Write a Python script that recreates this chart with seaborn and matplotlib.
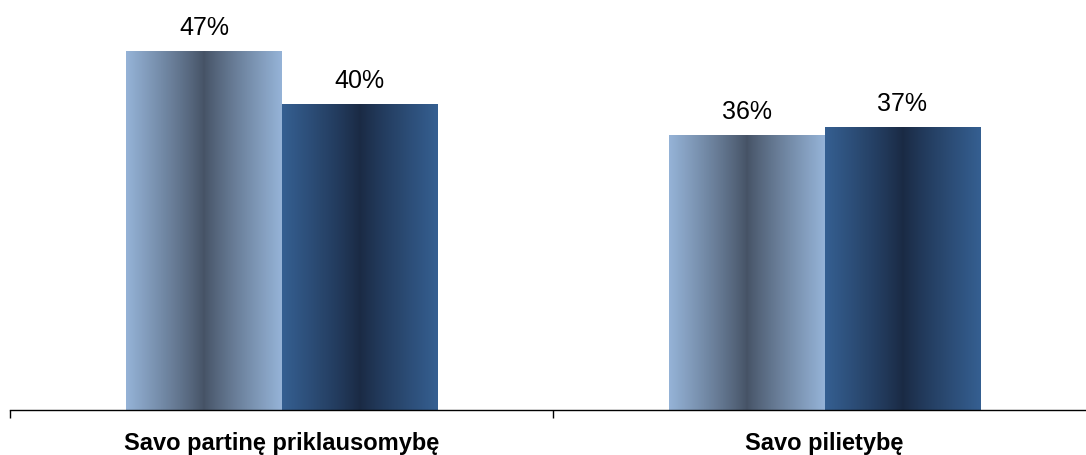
import numpy as np
import pandas as pd
import matplotlib
matplotlib.use('Agg')
import matplotlib.pyplot as plt
import seaborn as sns
from matplotlib.colors import LinearSegmentedColormap

categories = ['Savo partinę priklausomybę', 'Savo pilietybę']
series_names = ['Serija 1', 'Serija 2']
values_1 = [47, 36]
values_2 = [40, 37]

df = pd.DataFrame({
    'category': categories * 2,
    'series': [series_names[0]] * 2 + [series_names[1]] * 2,
    'value': values_1 + values_2,
})

edge_colors = ['#95b3d7', '#355f91']
mid_colors = ['#465366', '#1a2a44']

sns.set_style('white')
plt.rcParams['font.family'] = ['Liberation Sans', 'DejaVu Sans']

fig = plt.figure(figsize=(10.86, 4.55), dpi=100)
ax = fig.add_axes([10 / 1086, 45 / 455, 1086 / 1086, 410 / 455])

sns.barplot(data=df, x='category', y='value', hue='series', order=categories,
            hue_order=series_names, palette=edge_colors, width=0.571,
            saturation=1, legend=False, ax=ax)

# horizontal gradient fill for every bar
u = np.linspace(0, 1, 256)
profile = np.abs(u - 0.5) * 2
profile = profile ** 0.9
for container, c_edge, c_mid in zip(ax.containers, edge_colors, mid_colors):
    cmap = LinearSegmentedColormap.from_list('g', [c_mid, c_edge])
    for patch in container:
        x0 = patch.get_x()
        w = patch.get_width()
        h = patch.get_height()
        ax.imshow(profile[np.newaxis, :], cmap=cmap, vmin=0, vmax=1,
                  extent=[x0, x0 + w, 0, h], aspect='auto', zorder=2,
                  interpolation='bilinear')
        patch.set_facecolor('none')
        patch.set_edgecolor('none')
    ax.bar_label(container, fmt='%d%%', padding=8, fontsize=18, color='#000000')

ax.set_xlim(-0.5, 1.5)
ax.set_ylim(0, 53.7)
ax.set_xlabel('')
ax.set_ylabel('')
ax.set_yticks([])
for side in ['top', 'right', 'left']:
    ax.spines[side].set_visible(False)
ax.spines['bottom'].set_color('#000000')
ax.spines['bottom'].set_linewidth(1)

ax.set_xticks([-0.5, 0.5, 1.5], minor=True)
ax.tick_params(axis='x', which='minor', bottom=True, length=6, width=1, color='#000000')
ax.tick_params(axis='x', which='major', length=0, pad=16, labelsize=17,
               labelcolor='#000000')
for lbl in ax.get_xticklabels():
    lbl.set_fontweight('bold')

fig.savefig('out.png', dpi=100)
